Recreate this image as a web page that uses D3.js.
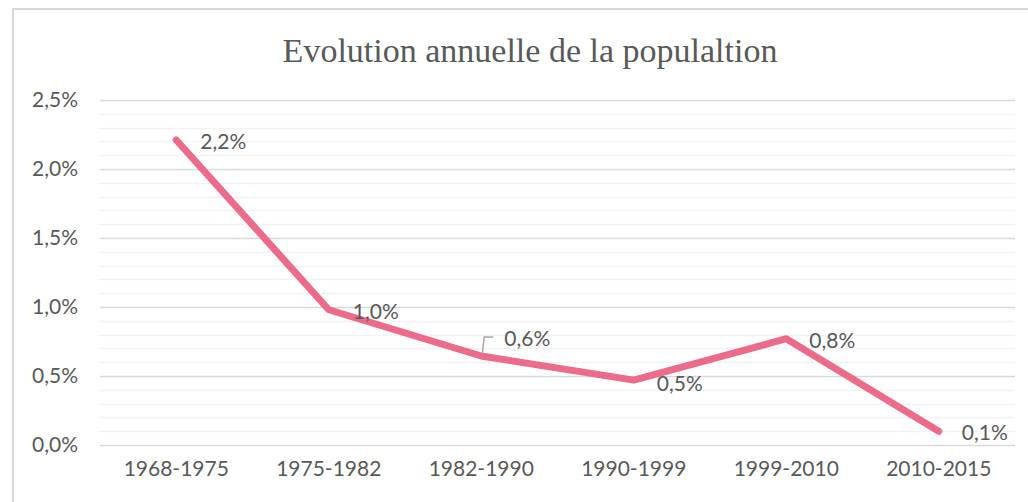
<!DOCTYPE html>
<html>
<head>
<meta charset="utf-8">
<script src="https://cdn.jsdelivr.net/npm/d3@7"></script>
<style>
  body { margin: 0; background: #fff; }
</style>
</head>
<body>
<script>
// data
const periods = ["1968-1975", "1975-1982", "1982-1990", "1990-1999", "1999-2010", "2010-2015"];
const growth = [0.0221, 0.0098, 0.00645, 0.0047, 0.0077, 0.001];
const pointLabels = ["2,2%", "1,0%", "0,6%", "0,5%", "0,8%", "0,1%"];
const yTicks = [0, 0.005, 0.01, 0.015, 0.02, 0.025];

const width = 1028;
const height = 502;
const margin = {top: 100, right: 13, bottom: 57, left: 100};
const sans = "Lato, 'Open Sans', sans-serif";

const svg = d3.select("body").append("svg")
    .attr("width", width).attr("height", height);

// chart frame (only top/left visible in the crop)
svg.append("rect")
    .attr("x", 13).attr("y", 9)
    .attr("width", 1100).attr("height", 600)
    .attr("fill", "none").attr("stroke", "#d9d9d9").attr("stroke-width", 2);

const x = d3.scaleBand().domain(periods)
    .range([margin.left, width - margin.right]);
const y = d3.scaleLinear().domain([0, 0.025])
    .range([height - margin.bottom, margin.top]);

// minor gridlines
const minor = d3.range(0, 0.0251, 0.001).filter((d, i) => i % 5 !== 0);
svg.append("g").selectAll("line").data(minor).enter().append("line")
    .attr("x1", margin.left).attr("x2", width - margin.right)
    .attr("y1", d => Math.round(y(d)) + 0.5).attr("y2", d => Math.round(y(d)) + 0.5)
    .attr("stroke", "#f2f2f2").attr("stroke-width", 1.5);

// major gridlines + y labels
const yAxis = d3.axisLeft(y).tickValues(yTicks)
    .tickSize(-(width - margin.left - margin.right))
    .tickFormat(d => d3.format(".1%")(d).replace(".", ","));
svg.append("g")
    .attr("transform", "translate(" + margin.left + ",0)")
    .call(yAxis)
    .call(g => g.select(".domain").remove())
    .call(g => g.selectAll(".tick line").attr("stroke", "#d9d9d9").attr("stroke-width", 1.5))
    .call(g => g.selectAll(".tick text")
        .attr("x", -22)
        .attr("fill", "#595959")
        .style("font-family", sans)
        .style("font-size", "21px"));

// x labels
const xAxis = d3.axisBottom(x).tickSize(0);
svg.append("g")
    .attr("transform", "translate(0," + (height - margin.bottom) + ")")
    .call(xAxis)
    .call(g => g.select(".domain").remove())
    .call(g => g.selectAll(".tick text")
        .attr("dy", "1.35em")
        .attr("fill", "#595959")
        .style("font-family", sans)
        .style("font-size", "21px"));

// the line
const line = d3.line()
    .x((d, i) => x(periods[i]) + x.bandwidth() / 2)
    .y(d => y(d));
svg.append("path")
    .datum(growth)
    .attr("d", line)
    .attr("fill", "none")
    .attr("stroke", "#ec6a8a")
    .attr("stroke-width", 7)
    .attr("stroke-linecap", "round")
    .attr("stroke-linejoin", "round");

// data labels (offsets)
const labelOffsets = [[24, 2], [24, 2], [23, -17], [23, 4], [23, 2], [23, 1]];
svg.append("g").selectAll("text").data(growth).enter().append("text")
    .attr("x", (d, i) => x(periods[i]) + x.bandwidth() / 2 + labelOffsets[i][0])
    .attr("y", (d, i) => y(d) + labelOffsets[i][1])
    .attr("dy", "0.35em")
    .attr("fill", "#595959")
    .style("font-family", sans)
    .style("font-size", "21px")
    .text((d, i) => pointLabels[i]);

// leader line for 0,6%
const lx = x(periods[2]) + x.bandwidth() / 2;
const ly = y(growth[2]);
svg.append("path")
    .attr("d", "M" + (lx + 1) + "," + (ly - 2) + "L" + (lx + 3) + "," + (ly - 19) + "L" + (lx + 12) + "," + (ly - 19))
    .attr("fill", "none").attr("stroke", "#a6a6a6").attr("stroke-width", 1.5);

// title
svg.append("text")
    .attr("x", 530).attr("y", 62)
    .attr("text-anchor", "middle")
    .attr("fill", "#595959")
    .style("font-family", "'Liberation Serif', 'DejaVu Serif', serif")
    .style("font-size", "34px")
    .text("Evolution annuelle de la populaltion");
</script>
</body>
</html>
